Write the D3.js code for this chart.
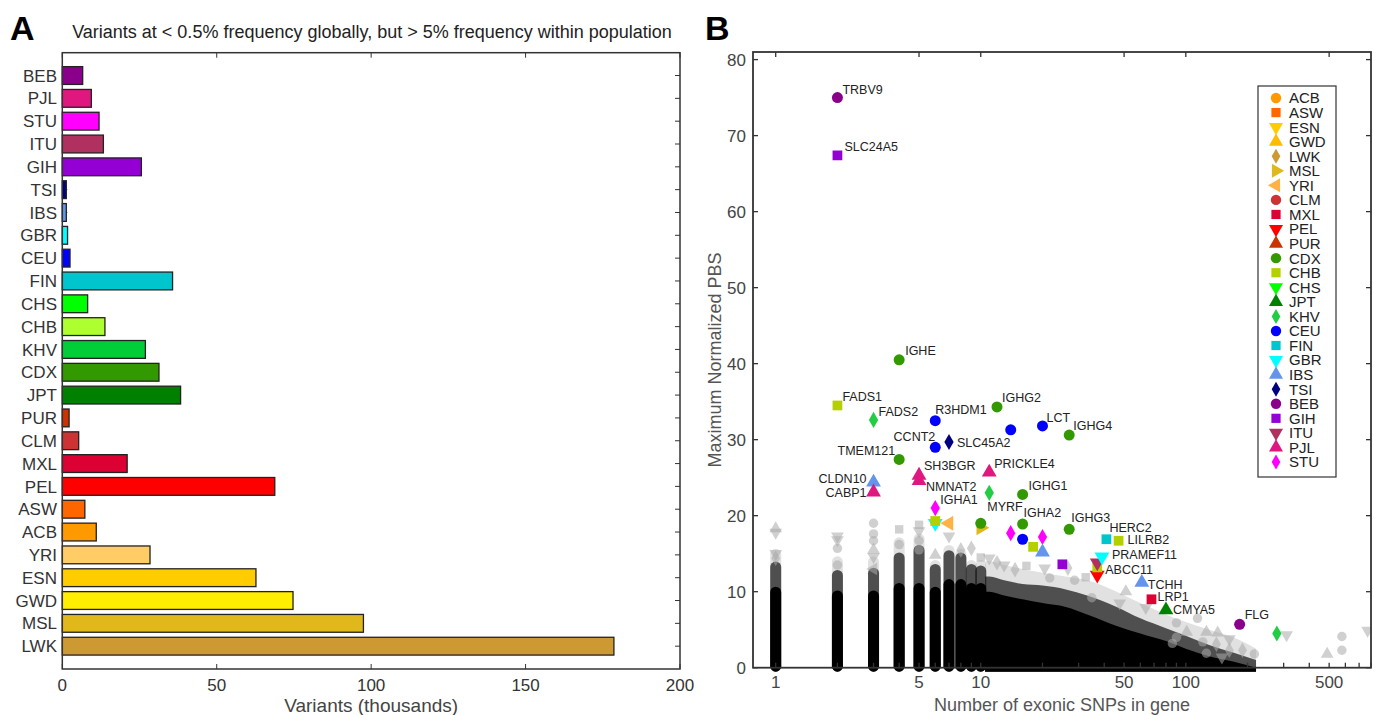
<!DOCTYPE html>
<html>
<head>
<meta charset="utf-8">
<script src="https://cdn.jsdelivr.net/npm/d3@7"></script>
<style>
  body { margin: 0; background: #fff; }
  text { font-family: "Liberation Sans", Arial, sans-serif; }
</style>
</head>
<body>
<svg id="fig" width="1374" height="715"></svg>
<script>
// ---- data ----
// population codes, top to bottom in panel A
let popCodes = ["BEB","PJL","STU","ITU","GIH","TSI","IBS","GBR","CEU","FIN","CHS","CHB","KHV","CDX","JPT","PUR","CLM","MXL","PEL","ASW","ACB","YRI","ESN","GWD","MSL","LWK"];
// variants (thousands)
let barValues = [6.6,9.4,11.9,13.3,25.6,1.3,1.3,1.7,2.5,35.7,8.2,13.8,26.9,31.3,38.3,2.2,5.3,21.0,68.8,7.3,11.0,28.4,62.7,74.7,97.5,178.6];
let xTicksA = [0,50,100,150,200];

// legend order in panel B
let legendOrder = ["ACB","ASW","ESN","GWD","LWK","MSL","YRI","CLM","MXL","PEL","PUR","CDX","CHB","CHS","JPT","KHV","CEU","FIN","GBR","IBS","TSI","BEB","GIH","ITU","PJL","STU"];

let popColor = {
  BEB:"#8b008b", PJL:"#e0177f", STU:"#ff00ff", ITU:"#b03060", GIH:"#9400d3",
  TSI:"#000080", IBS:"#6495ed", GBR:"#00ffff", CEU:"#0000ff", FIN:"#00c5cd",
  CHS:"#00ff00", CHB:"#adff2f", KHV:"#00cd38", CDX:"#339900", JPT:"#008000",
  PUR:"#cd3300", CLM:"#cd3333", MXL:"#dc0033", PEL:"#ff0000", ASW:"#ff6600",
  ACB:"#ff9900", YRI:"#ffcc66", ESN:"#ffcc00", GWD:"#ffee00", MSL:"#e0b81c", LWK:"#cd9933"
};
// panel B uses a few slightly different shades
let popColorB = { CHB:"#b4d000", KHV:"#22cc44", YRI:"#ffb347", ESN:"#ffcc00", GWD:"#ffbb00" };
function colorB(p) { return popColorB[p] || popColor[p]; }

let popShape = {
  ACB:"circle", ASW:"square", ESN:"down", GWD:"up", LWK:"diamond", MSL:"right", YRI:"left",
  CLM:"circle", MXL:"square", PEL:"down", PUR:"up",
  CDX:"circle", CHB:"square", CHS:"down", JPT:"up", KHV:"diamond",
  CEU:"circle", FIN:"square", GBR:"down", IBS:"up", TSI:"diamond",
  BEB:"circle", GIH:"square", ITU:"down", PJL:"up", STU:"diamond"
};

// highlighted genes: [population, exonic SNPs, max normalized PBS, gene]
let highlights = [
  ["GBR",6,19.0,""], ["CHB",6,19.3,""], ["YRI",7,19.0,""], ["MSL",10,18.4,""], ["CDX",10,19.0,""],
  ["STU",14,17.7,""], ["CEU",16,16.9,""], ["STU",20,17.2,""], ["CHB",18,15.9,""], ["IBS",20,15.2,""],
  ["GIH",25,13.6,""], ["CEU",14,31.3,""], ["KHV",278,4.5,""],
  ["PEL",37,12.2,""], ["CHB",37,13.2,""], ["ITU",37,13.8,"ABCC11"],
  ["BEB",2,75.0,"TRBV9"], ["GIH",2,67.4,"SLC24A5"], ["CDX",4,40.5,"IGHE"],
  ["CHB",2,34.5,"FADS1"], ["KHV",3,32.6,"FADS2"], ["CEU",6,32.5,"R3HDM1"],
  ["CDX",12,34.3,"IGHG2"], ["CEU",20,31.8,"LCT"], ["CDX",27,30.6,"IGHG4"],
  ["CEU",6,29.0,"CCNT2"], ["TSI",7,29.7,"SLC45A2"], ["CDX",4,27.4,"TMEM121"],
  ["PJL",5,24.6,"NMNAT2"], ["PJL",5,25.3,"SH3BGR"], ["PJL",11,25.7,"PRICKLE4"],
  ["IBS",3,24.4,"CLDN10"], ["PJL",3,23.1,"CABP1"], ["KHV",11,23.0,"MYRF"],
  ["CDX",16,22.8,"IGHG1"], ["STU",6,21.0,"IGHA1"], ["CDX",16,18.9,"IGHA2"],
  ["CDX",27,18.2,"IGHG3"], ["FIN",41,16.9,"HERC2"], ["CHB",47,16.7,"LILRB2"],
  ["GBR",39,14.6,"PRAMEF11"], ["IBS",61,11.2,"TCHH"], ["MXL",68,9.0,"LRP1"],
  ["JPT",80,7.6,"CMYA5"], ["BEB",183,5.7,"FLG"]
];

// background genes: dense single-count columns (SNPs 1..10), tops of core / mid / halo
let columnN    = [1,2,3,4,5,6,7,8,9,10];
let columnCore = [10,9.5,9.5,10.5,10.5,10,11,11,10.5,10.5];
let columnMid  = [13.3,12.2,12.5,14.5,15.5,13,14.8,14.5,13,12.8];
let columnHalo = [15,14,14,16.5,17,13.5,15.5,15,13.5,13.5];

// merged cloud for larger SNP counts
let blobN    = [10.5,11,13,16,20,26,33,46,60,80,100,130,170,220];
let blobCore = [10,10,9.5,9,8.5,8,7,5.5,4.5,3.5,2.5,1.5,0.8,0];
let blobMid  = [12,12,11.5,11,10.8,10.3,9.5,8,6.5,5.2,4.2,3,2,1];
let blobHalo = [14,14,13.5,13,12.5,12,11.5,10,8.5,7,6,5,4,2.5];

// faint individual genes above the cloud: [SNPs, PBS, shape]
let outliers = [
  [1,18.3,"up"],[1,17.8,"down"],[1,15.0,"down"],[1,14.4,"diamond"],
  [2,17.3,"down"],[2,16.8,"down"],[2,15.7,"circle"],[2,13.5,"circle"],
  [3,19.0,"circle"],[3,17.6,"circle"],[3,16.7,"circle"],[3,15.5,"up"],[3,14.6,"down"],[3,13.0,"left"],
  [4,18.2,"square"],[4,16.2,"circle"],
  [5,18.8,"square"],[5,18.0,"down"],[5,16.7,"circle"],[5,15.5,"circle"],
  [6,14.8,"up"],[7,17.3,"down"],[8,15.5,"diamond"],[9,15.7,"diamond"],
  [10,14.5,"square"],[11,14.4,"down"],[12,13.8,"diamond"],[13,13.5,"down"],
  [14.7,12.9,"diamond"],[16.7,13.4,"square"],[20.5,13.1,"down"],[21.7,11.8,"circle"],
  [26.6,13.1,"diamond"],[28.7,11.5,"circle"],[32.5,11.9,"square"],[34.8,9.2,"circle"],
  [51,10,"up"],[47.6,8.5,"down"],[63.8,7.9,"down"],[114,6.5,"circle"],[90,5.9,"circle"],
  [126,4.7,"up"],[143,4.6,"up"],[163,3.8,"down"],[86,3.2,"circle"],[141,3.1,"diamond"],
  [216,1.8,"circle"],[189,2.3,"diamond"],[310,4.3,"down"],[489,1.8,"up"],
  [577,4.1,"circle"],[577,2.3,"circle"],[770,4.9,"down"],[101,4.7,"up"],[150,1.4,"down"],
  [163,2.3,"diamond"],[90,4.0,"circle"],[121,3.4,"circle"],[126,1.9,"circle"]
];

let yTicksB = [0,10,20,30,40,50,60,70,80];
let xTicksB = [1,5,10,50,100,500];
let xMinorB = [1,2,3,4,5,6,7,8,9,10,20,30,40,50,60,70,80,90,100,200,300,400,500,600,700,800];

// label offsets [dx, dy, anchor]
let labelPos = {
  TRBV9:[5,-4,"start"], SLC24A5:[7,-4,"start"], IGHE:[6,-5,"start"], FADS1:[5,-4,"start"],
  FADS2:[5,-4,"start"], R3HDM1:[0,-7,"start"], IGHG2:[5,-5,"start"], LCT:[4,-4,"start"],
  IGHG4:[4,-5,"start"], CCNT2:[0,-6,"end"], SLC45A2:[8,5,"start"], TMEM121:[-4,-4,"end"],
  SH3BGR:[5,-5,"start"], NMNAT2:[7,10,"start"], PRICKLE4:[5,-4,"start"], CLDN10:[-7,1,"end"],
  CABP1:[-7,5,"end"], MYRF:[-2,18,"start"], IGHG1:[6,-4,"start"], IGHA1:[5,-4,"start"],
  IGHA2:[1,-7,"start"], IGHG3:[2,-7,"start"], HERC2:[3,-7,"start"], LILRB2:[9,3,"start"],
  PRAMEF11:[10,2.5,"start"], ABCC11:[8,11,"start"], TCHH:[6,6,"start"], LRP1:[6,2,"start"],
  CMYA5:[7,4,"start"], FLG:[5,-5,"start"]
};

let svg = d3.select("#fig");
let axisColor = "#333";

function symbolPath(shape, size) {
  let t = {circle:d3.symbolCircle, square:d3.symbolSquare, diamond:d3.symbolDiamond}[shape] || d3.symbolTriangle;
  return d3.symbol().type(t).size(size)();
}
function symbolRot(shape) {
  if (shape == "down") return 180;
  if (shape == "right") return 90;
  if (shape == "left") return -90;
  return 0;
}

// ================= panel A =================
let xA = d3.scaleLinear().domain([0,200]).range([62.3,680]);
let yA = d3.scaleBand().domain(popCodes).range([52.7,669]).paddingInner(0.22).paddingOuter(0.61);

svg.append("text").attr("x",10).attr("y",40)
  .style("font-size","34px").style("font-weight","bold").text("A");
svg.append("text").attr("x",372).attr("y",38).attr("text-anchor","middle")
  .style("font-size","18px").attr("fill","#222")
  .text("Variants at < 0.5% frequency globally, but > 5% frequency within population");

let gA = svg.append("g");

// inner ticks on left / right for categories
popCodes.forEach(function(c){
  let yc = yA(c) + yA.bandwidth()/2;
  gA.append("line").attr("x1",62.3).attr("x2",67.3).attr("y1",yc).attr("y2",yc).attr("stroke",axisColor);
  gA.append("line").attr("x1",680).attr("x2",675).attr("y1",yc).attr("y2",yc).attr("stroke",axisColor);
  gA.append("text").attr("x",57).attr("y",yc).attr("dy","0.36em").attr("text-anchor","end")
    .style("font-size","17px").attr("fill","#333").text(c);
});

gA.selectAll("rect.bar")
  .data(popCodes)
  .enter()
  .append("rect").attr("class","bar")
    .attr("x", xA(0))
    .attr("y", function(d){ return yA(d); })
    .attr("width", function(d,i){ return xA(barValues[i]) - xA(0); })
    .attr("height", yA.bandwidth())
    .attr("fill", function(d){ return popColor[d]; })
    .attr("stroke", "#222")
    .attr("stroke-width", 1.3);

xTicksA.forEach(function(t){
  gA.append("line").attr("x1",xA(t)).attr("x2",xA(t)).attr("y1",669).attr("y2",664).attr("stroke",axisColor);
  gA.append("line").attr("x1",xA(t)).attr("x2",xA(t)).attr("y1",52.7).attr("y2",57.7).attr("stroke",axisColor);
  gA.append("text").attr("x",xA(t)).attr("y",691).attr("text-anchor","middle")
    .style("font-size","17px").attr("fill","#333").text(t);
});
gA.append("rect").attr("x",62.3).attr("y",52.7).attr("width",680-62.3).attr("height",669-52.7)
  .attr("fill","none").attr("stroke",axisColor).attr("stroke-width",1.5);
gA.append("text").attr("x",xA(100)).attr("y",712).attr("text-anchor","middle")
  .style("font-size","19px").attr("fill","#444").text("Variants (thousands)");

// ================= panel B =================
let xB = d3.scaleLog().domain([0.775,800]).range([753,1371]);
let yB = d3.scaleLinear().domain([0,81]).range([667.7,52]);

svg.append("text").attr("x",705).attr("y",40)
  .style("font-size","34px").style("font-weight","bold").text("B");

let gB = svg.append("g");
gB.append("clipPath").attr("id","clipB").append("rect")
  .attr("x",753).attr("y",52).attr("width",618).attr("height",620);
let plotB = gB.append("g").attr("clip-path","url(#clipB)");

// cloud of background genes
let layers = [
  {col:columnHalo, blob:blobHalo, fill:"#a8a8a8", op:0.35},
  {col:columnMid,  blob:blobMid,  fill:"#111",    op:0.7},
  {col:columnCore, blob:blobCore, fill:"#000",    op:1}
];
layers.forEach(function(L){
  let area = d3.area()
    .x(function(d,i){ return xB(blobN[i]); })
    .y0(yB(0)+4)
    .y1(function(d){ return yB(d); })
    .curve(d3.curveMonotoneX);
  plotB.append("path").datum(L.blob).attr("d",area).attr("fill",L.fill).attr("fill-opacity",L.op);
  plotB.selectAll(null)
    .data(columnN)
    .enter()
    .append("rect")
      .attr("x", function(d){ return xB(d) - 5.5; })
      .attr("width", 11)
      .attr("y", function(d,i){ return yB(L.col[i]) - 5; })
      .attr("height", function(d,i){ return yB(0) + 9 - yB(L.col[i]); })
      .attr("rx", 5.5)
      .attr("fill", L.fill).attr("fill-opacity", L.op);
});

plotB.selectAll("path.out")
  .data(outliers)
  .enter()
  .append("path").attr("class","out")
    .attr("d", function(d){ return symbolPath(d[2], 70); })
    .attr("transform", function(d){ return "translate(" + xB(d[0]) + "," + yB(d[1]) + ") rotate(" + symbolRot(d[2]) + ")"; })
    .attr("fill","#aaa").attr("fill-opacity",0.55);

plotB.selectAll("path.hl")
  .data(highlights)
  .enter()
  .append("path").attr("class","hl")
    .attr("d", function(d){ return symbolPath(popShape[d[0]], popShape[d[0]]=="diamond" ? 75 : 95); })
    .attr("transform", function(d){ return "translate(" + xB(d[1]) + "," + yB(d[2]) + ") rotate(" + symbolRot(popShape[d[0]]) + ")"; })
    .attr("fill", function(d){ return colorB(d[0]); });

gB.selectAll("text.gene")
  .data(highlights.filter(function(d){ return d[3] != ""; }))
  .enter()
  .append("text").attr("class","gene")
    .attr("x", function(d){ return xB(d[1]) + labelPos[d[3]][0]; })
    .attr("y", function(d){ return yB(d[2]) + labelPos[d[3]][1]; })
    .attr("text-anchor", function(d){ return labelPos[d[3]][2]; })
    .style("font-size","12.5px").attr("fill","#222")
    .text(function(d){ return d[3]; });

// axes box and ticks
yTicksB.forEach(function(t){
  gB.append("line").attr("x1",753).attr("x2",758).attr("y1",yB(t)).attr("y2",yB(t)).attr("stroke",axisColor).attr("stroke-width",1.3);
  gB.append("line").attr("x1",1371).attr("x2",1366).attr("y1",yB(t)).attr("y2",yB(t)).attr("stroke",axisColor).attr("stroke-width",1.3);
  gB.append("text").attr("x",746).attr("y",yB(t)).attr("dy","0.36em").attr("text-anchor","end")
    .style("font-size","17px").attr("fill","#444").text(t);
});
xMinorB.forEach(function(t){
  gB.append("line").attr("x1",xB(t)).attr("x2",xB(t)).attr("y1",667.7).attr("y2",662.7).attr("stroke",axisColor).attr("stroke-width",1.3);
});
xTicksB.forEach(function(t){
  gB.append("line").attr("x1",xB(t)).attr("x2",xB(t)).attr("y1",52).attr("y2",57).attr("stroke",axisColor).attr("stroke-width",1.3);
  gB.append("text").attr("x",xB(t)).attr("y",688).attr("text-anchor","middle")
    .style("font-size","17px").attr("fill","#444").text(t);
});
gB.append("rect").attr("x",753).attr("y",52).attr("width",618).attr("height",615.7)
  .attr("fill","none").attr("stroke",axisColor).attr("stroke-width",1.8);
gB.append("text").attr("x",1062).attr("y",711).attr("text-anchor","middle")
  .style("font-size","18px").attr("fill","#555").text("Number of exonic SNPs in gene");
gB.append("text").attr("transform","translate(721,360) rotate(-90)").attr("text-anchor","middle")
  .style("font-size","18px").attr("fill","#555").text("Maximum Normalized PBS");

// legend
let lg = gB.append("g");
lg.append("rect").attr("x",1258).attr("y",86).attr("width",78).attr("height",391)
  .attr("fill","#fff").attr("stroke",axisColor).attr("stroke-width",1.2);
let entry = lg.selectAll("g.legendEntry")
  .data(legendOrder)
  .enter()
  .append("g").attr("class","legendEntry")
    .attr("transform", function(d,i){ return "translate(0," + (98 + i*14.56) + ")"; });
entry.append("path")
  .attr("d", function(d){ return symbolPath(popShape[d], popShape[d]=="diamond" ? 65 : 85); })
  .attr("transform", function(d){ return "translate(1276,0) rotate(" + symbolRot(popShape[d]) + ")"; })
  .attr("fill", function(d){ return colorB(d); });
entry.append("text").attr("x",1289).attr("dy","0.36em")
  .style("font-size","15px").attr("fill","#222")
  .text(function(d){ return d; });
</script>
</body>
</html>
